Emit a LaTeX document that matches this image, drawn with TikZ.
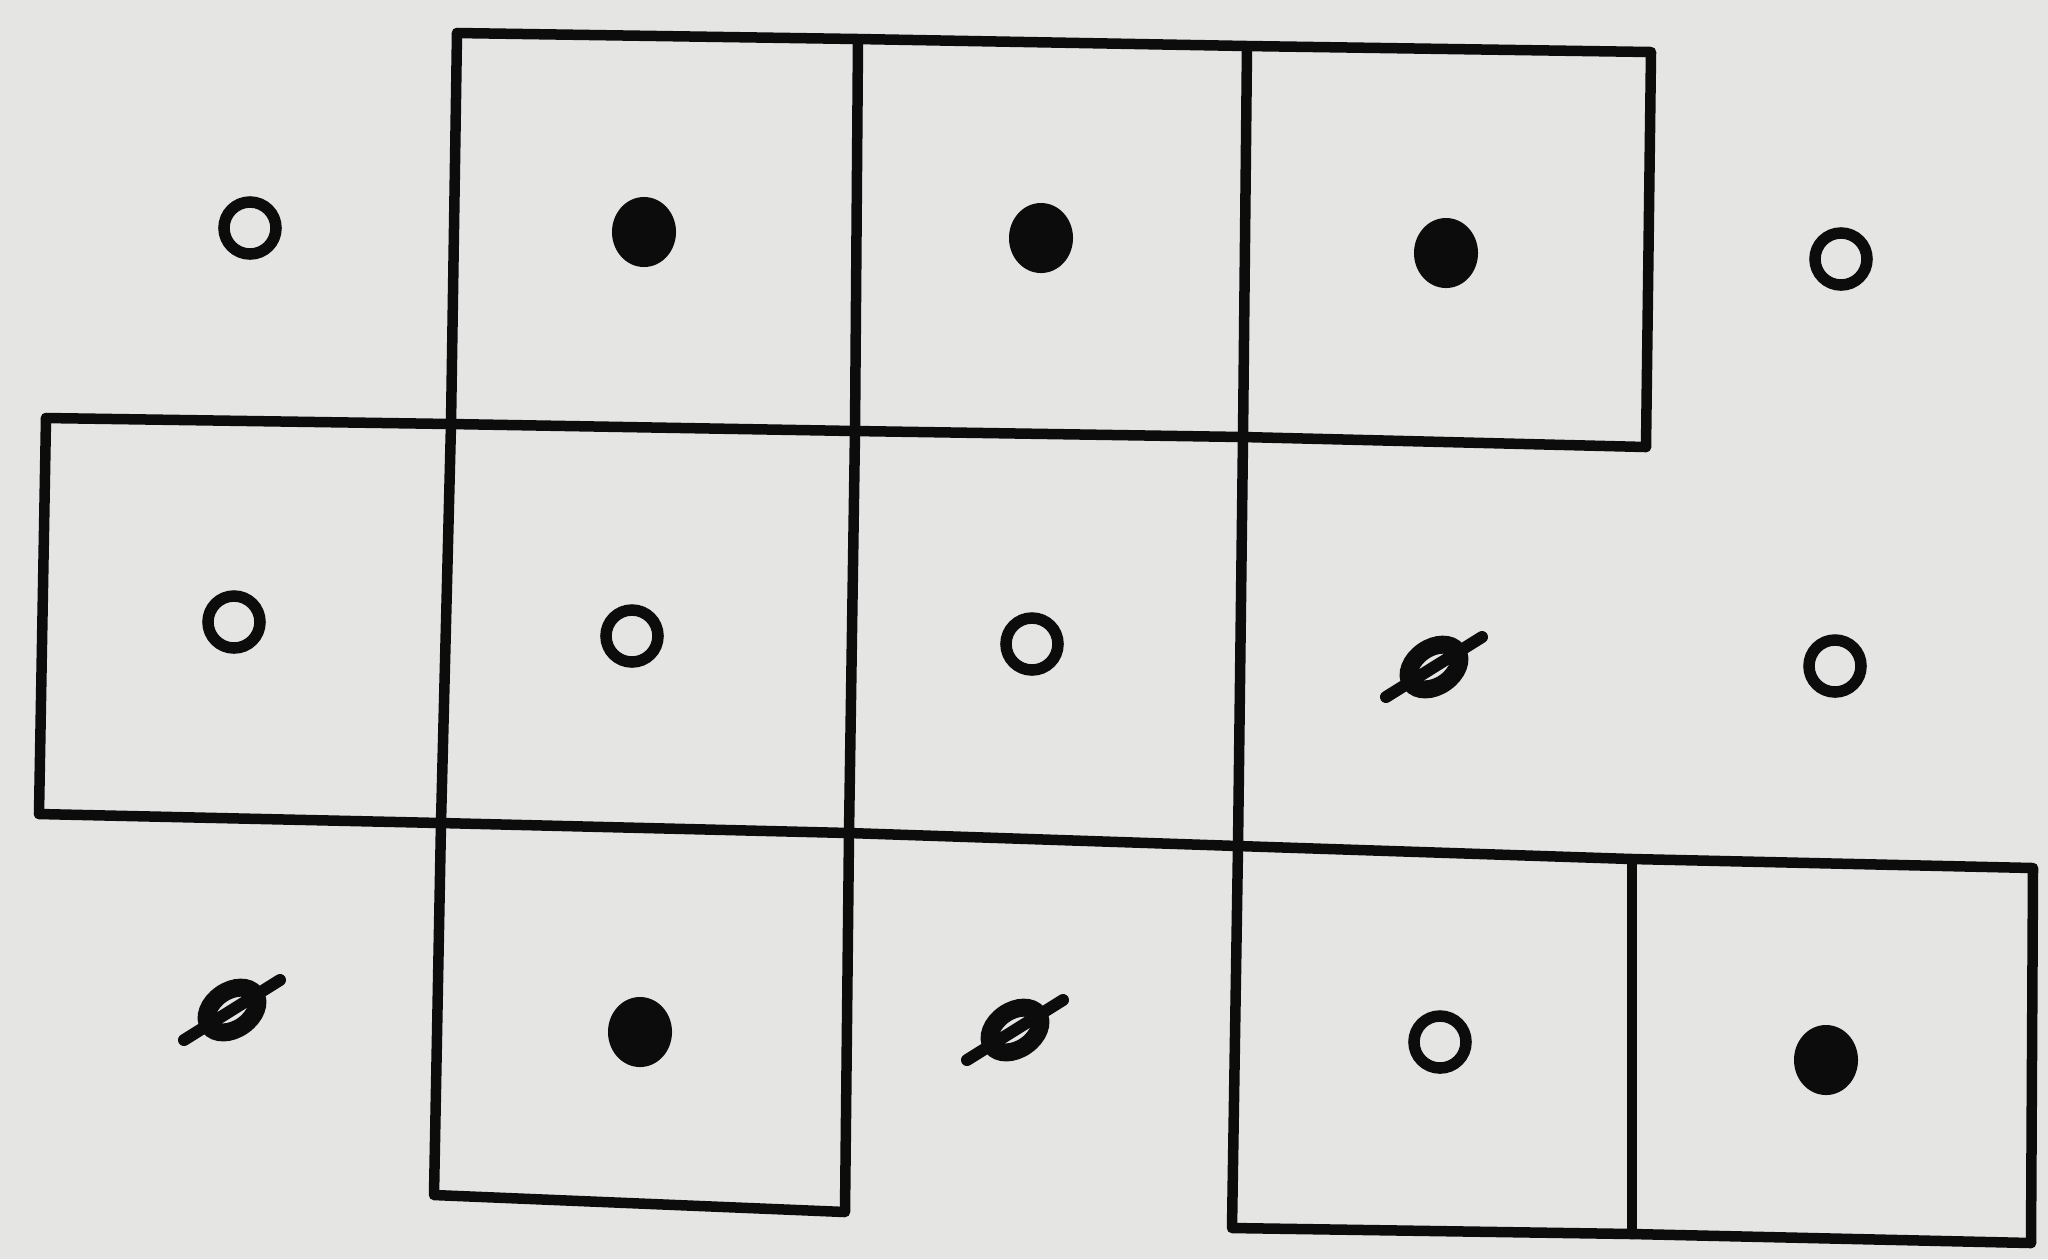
\documentclass[tikz,border=0pt]{standalone}
\usetikzlibrary{shapes.geometric,calc}
\definecolor{paper}{RGB}{229,229,227}
\definecolor{ink}{RGB}{12,12,12}
\tikzset{
  grid/.style={draw=ink,line width=0.105cm,line cap=round,line join=round},
  opensym/.style={circle,draw=ink,line width=0.115cm,minimum size=0.52cm,inner sep=0pt},
  fullsym/.style={ellipse,fill=ink,minimum width=0.64cm,minimum height=0.7cm,inner sep=0pt},
  nullsym/.style={ellipse,draw=ink,line width=0.18cm,minimum width=0.56cm,minimum height=0.38cm,inner sep=0pt,rotate=35},
  bar/.style={draw=ink,line width=0.12cm,line cap=round}
}
\begin{document}
\begin{tikzpicture}[x=0.01cm,y=-0.01cm]
\fill[paper] (0,0) rectangle (2048,1259);
\useasboundingbox (0,0) rectangle (2048,1259);
% corners
\coordinate (A0) at (457,33);  \coordinate (B0) at (858,39);  \coordinate (C0) at (1247,46); \coordinate (D0) at (1651,52);
\coordinate (L1) at (46,418);  \coordinate (A1) at (451,424); \coordinate (B1) at (855,431); \coordinate (C1) at (1243,437); \coordinate (D1) at (1646,447);
\coordinate (L2) at (39,814);  \coordinate (A2) at (441,823); \coordinate (B2) at (849,833); \coordinate (C2) at (1238,846); \coordinate (D2) at (1632,859); \coordinate (E2) at (2033,868);
\coordinate (A3) at (434,1195); \coordinate (B3) at (845,1212);
\coordinate (C3) at (1232,1228); \coordinate (D3) at (1632,1234); \coordinate (E3) at (2031,1243);
% lines
\draw[grid] (A0) -- (B0) -- (C0) -- (D0) -- (D1);
\draw[grid] (L1) -- (A1) -- (B1) -- (C1) -- (D1);
\draw[grid] (L1) -- (L2);
\draw[grid] (L2) -- (A2) -- (B2) -- (C2) -- (D2) -- (E2) -- (E3);
\draw[grid] (A0) -- (A1) -- (A2) -- (A3) -- (B3) -- (B2) -- (B1) -- (B0);
\draw[grid] (C0) -- (C1) -- (C2) -- (C3) -- (D3) -- (E3);
\draw[grid] (D2) -- (D3);
% row 1
\node[opensym] (r1c1) at (250,228) {};
\node[fullsym] (r1c2) at (644,232) {};
\node[fullsym] (r1c3) at (1041,238) {};
\node[fullsym] (r1c4) at (1446,253) {};
\node[opensym] (r1c5) at (1841,259) {};
% row 2
\node[opensym] (r2c1) at (234,622) {};
\node[opensym] (r2c2) at (632,636) {};
\node[opensym] (r2c3) at (1032,644) {};
\node[nullsym] (r2c4) at (1434,667) {};
\node[opensym] (r2c5) at (1835,666) {};
% row 3
\node[nullsym] (r3c1) at (232,1010) {};
\node[fullsym] (r3c2) at (640,1032) {};
\node[nullsym] (r3c3) at (1015,1030) {};
\node[opensym] (r3c4) at (1440,1042) {};
\node[fullsym] (r3c5) at (1826,1060) {};
% bars through the null symbols
\foreach \n in {r2c4,r3c1,r3c3}
  \draw[bar] ($(\n.center)+(-48,30)$) -- ($(\n.center)+(48,-30)$);
\end{tikzpicture}
\end{document}
